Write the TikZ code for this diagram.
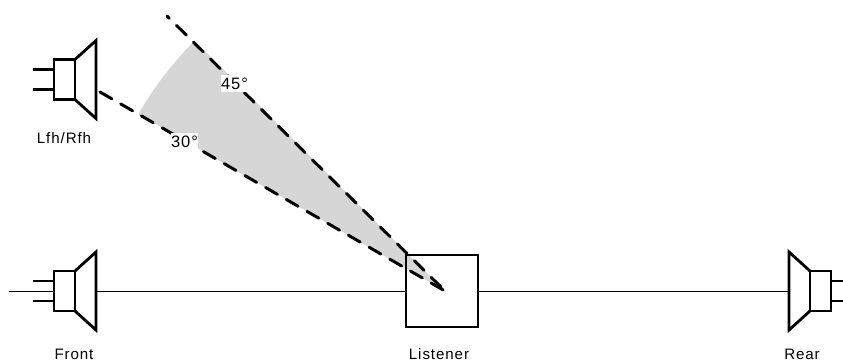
\documentclass[tikz,border=0pt]{standalone}
\usepackage{fontspec}
\setmainfont[LetterSpace=6]{Liberation Sans}
\tikzset{
  speaker/.pic={
    \draw[thick line] (-21,-10) -- (0,-10); % 上引线
    \draw[thick line] (-21,10) -- (0,10); % 下引线
    \draw[thick line] (0,-20) rectangle (21,20); % 磁体
    \draw[thick line] (21,20) -- (42,39) -- (42,-39) -- (21,-20); % 锥盆
  },
  thick line/.style={line width=1.6pt},
  axis line/.style={line width=0.55pt},
  limit line/.style={line width=1.7pt,line cap=round,dash pattern=on 7.8pt off 5.8pt},
  caption/.style={font=\fontsize{8.6}{10}\selectfont},
  angle label/.style={font=\fontsize{9.4}{10}\selectfont,fill=white,inner sep=0pt,minimum width=15.6pt,minimum height=9.6pt}
}
\begin{document}
\begin{tikzpicture}[x=0.02cm,y=0.02cm]
    \useasboundingbox (0,0) rectangle (843,363);

    % 听音位置与灰色扇形
    \coordinate (ear) at (445,72);
    \fill[fill=black!16] (ear) -- ++(150:354) arc (150:135:354) -- cycle;

    % 听音者方框
    \node[draw,line width=1.6pt,minimum size=1.44cm,inner sep=0pt] (listener) at (442,72) {};

    % 三个主音箱
    \pic at (54,72) {speaker};
    \pic at (54,283.5) {speaker};
    \pic[xscale=-1] at (831,72) {speaker};

    % 水平基准线
    \coordinate (linestart) at (9,72);
    \coordinate (frontmagnet) at (54,72);
    \coordinate (frontcone) at (96,72);
    \coordinate (rearcone) at (789,72);
    \draw[axis line] (linestart) -- (frontmagnet);
    \draw[axis line] (frontcone) -- (listener);
    \draw[axis line] (listener) -- (rearcone);

    % 两条虚线边界
    \coordinate (end30) at (100,271);
    \coordinate (end45) at (167,347);
    \draw[limit line] (end30) -- (ear);
    \draw[limit line,dash phase=6pt] (end45) -- (ear);

    % 角度标签
    \node[angle label] (label30) at (184.5,221.5) {30°};
    \node[angle label] (label45) at (234.5,279.5) {45°};

    % 标签
    \node[caption] (labelfh) at (64,225) {Lfh/Rfh};
    \node[caption] (labelfront) at (74,9) {Front};
    \node[caption] (labellistener) at (439,9) {Listener};
    \node[caption] (labelrear) at (802,9) {Rear};
\end{tikzpicture}
\end{document}
